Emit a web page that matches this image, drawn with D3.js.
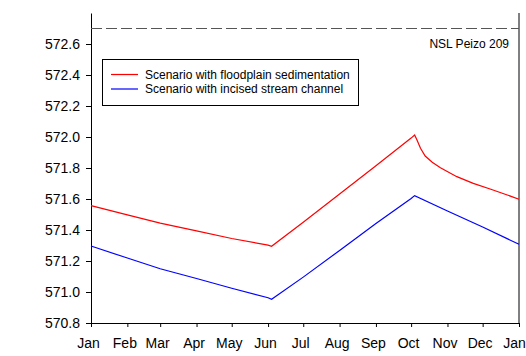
<!DOCTYPE html>
<html>
<head>
<meta charset="utf-8">
<script src="https://cdn.jsdelivr.net/npm/d3@7"></script>
<style>
  html, body { margin: 0; padding: 0; background: #fff; }
  svg { display: block; font-family: "Liberation Sans", Arial, sans-serif; }
</style>
</head>
<body>
<svg id="chart" width="526" height="356"></svg>
<script>
// Water-level series (m), one year of breakpoints
const redDates = ["2001-01-01","2001-02-01","2001-03-01","2001-04-01","2001-05-01","2001-06-01","2001-06-04",
  "2001-07-01","2001-08-01","2001-09-01","2001-10-01","2001-10-04","2001-10-06","2001-10-09","2001-10-13",
  "2001-10-19","2001-10-26","2001-11-09","2001-11-23","2001-12-08","2001-12-22","2002-01-01"];
const redValues = [571.557,571.498,571.444,571.394,571.345,571.302,571.295,
  571.450,571.632,571.815,571.993,572.013,571.980,571.927,571.877,
  571.837,571.802,571.744,571.701,571.663,571.626,571.598];

const blueDates = ["2001-01-01","2001-02-01","2001-03-01","2001-04-01","2001-05-01","2001-06-01","2001-06-04",
  "2001-07-01","2001-08-01","2001-09-01","2001-10-01","2001-10-04","2001-11-01","2001-12-01","2002-01-01"];
const blueValues = [571.297,571.219,571.150,571.087,571.024,570.963,570.953,
  571.096,571.268,571.442,571.603,571.622,571.523,571.419,571.308];

const referenceLevel = 572.7;
const referenceLabel = "NSL Peizo 209";
const seriesNames = ["Scenario with floodplain sedimentation", "Scenario with incised stream channel"];
const seriesColors = ["#ff0000", "#0000ff"];
const monthLabels = ["Jan","Feb","Mar","Apr","May","Jun","Jul","Aug","Sep","Oct","Nov","Dec","Jan"];
const yTicks = [570.8,571.0,571.2,571.4,571.6,571.8,572.0,572.2,572.4,572.6];

const parse = d3.utcParse("%Y-%m-%d");
const svg = d3.select("#chart");
const plotLeft = 91, plotRight = 519, plotTop = 13, plotBottom = 323;

const x = d3.scaleUtc()
  .domain([parse("2001-01-01"), parse("2002-01-01")])
  .range([plotLeft, plotRight]);
const y = d3.scaleLinear().domain([570.8, 572.8]).range([plotBottom, plotTop]);

const monthTicks = d3.utcMonth.range(parse("2001-01-01"), parse("2002-01-02"));

// x axis
const xAxis = svg.append("g")
  .attr("transform", `translate(0,${plotBottom})`)
  .call(d3.axisBottom(x).tickValues(monthTicks)
    .tickFormat((d, i) => monthLabels[i]).tickSize(4).tickSizeOuter(0).tickPadding(11));
xAxis.selectAll("text").attr("font-size", 14).attr("fill", "#000")
  .attr("dx", (d, i) => i === monthTicks.length - 1 ? -5 : -3)
  .attr("font-family", "Liberation Sans, Arial, sans-serif");

// y axis
const yAxis = svg.append("g")
  .attr("transform", `translate(${plotLeft},0)`)
  .call(d3.axisLeft(y).tickValues(yTicks).tickFormat(d3.format(".1f"))
    .tickSize(5).tickSizeOuter(0).tickPadding(6));
yAxis.selectAll("text").attr("font-size", 14).attr("fill", "#000")
  .attr("font-family", "Liberation Sans, Arial, sans-serif");

svg.selectAll(".domain").attr("stroke", "#000");
svg.selectAll(".tick line").attr("stroke", "#000");

// right frame edge
svg.append("line")
  .attr("x1", plotRight).attr("x2", plotRight).attr("y1", plotTop).attr("y2", plotBottom)
  .attr("stroke", "#000");

// reference level
svg.append("line")
  .attr("x1", plotLeft).attr("x2", plotRight)
  .attr("y1", y(referenceLevel)).attr("y2", y(referenceLevel))
  .attr("stroke", "#555").attr("stroke-width", 1.2).attr("stroke-dasharray", "11,4");
svg.append("text")
  .attr("x", plotRight - 10).attr("y", y(referenceLevel) + 19)
  .attr("text-anchor", "end").attr("font-size", 12).attr("fill", "#000")
  .text(referenceLabel);

// series lines
const line = d3.line().x(d => x(d[0])).y(d => y(d[1]));
const series = [
  redDates.map((d, i) => [parse(d), redValues[i]]),
  blueDates.map((d, i) => [parse(d), blueValues[i]])
];
series.forEach((s, i) => {
  svg.append("path").datum(s)
    .attr("d", line).attr("fill", "none")
    .attr("stroke", seriesColors[i]).attr("stroke-width", 1.2);
});

// legend
const lg = svg.append("g");
lg.append("rect").attr("x", 102.5).attr("y", 59.5).attr("width", 256).attr("height", 46)
  .attr("fill", "#fff").attr("stroke", "#000");
seriesNames.forEach((name, i) => {
  const ly = 74.5 + i * 14.5;
  lg.append("line").attr("x1", 111).attr("x2", 138).attr("y1", ly).attr("y2", ly)
    .attr("stroke", seriesColors[i]).attr("stroke-width", 1.2);
  lg.append("text").attr("x", 145).attr("y", ly + 4.2)
    .attr("font-size", 12).attr("fill", "#000").text(name);
});
</script>
</body>
</html>
